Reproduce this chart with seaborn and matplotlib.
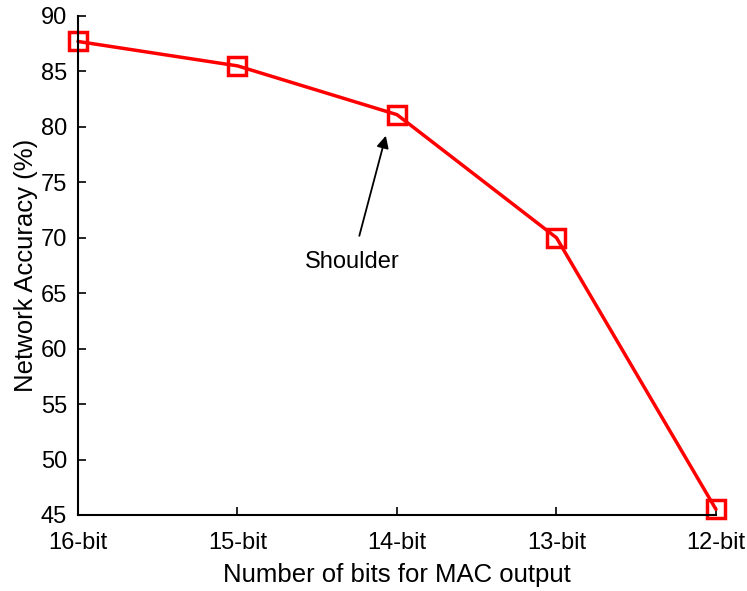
import matplotlib
matplotlib.use("Agg")
import matplotlib.pyplot as plt
import seaborn as sns
import pandas as pd

categories = ["16-bit", "15-bit", "14-bit", "13-bit", "12-bit"]
accuracy = [87.7, 85.5, 81.1, 70.0, 45.5]
y_ticks = [45, 50, 55, 60, 65, 70, 75, 80, 85, 90]

sns.set_style("white")
plt.rcParams['font.family'] = ['Liberation Sans', 'DejaVu Sans']
plt.rcParams['text.color'] = 'black'
plt.rcParams['axes.labelcolor'] = 'black'

df = pd.DataFrame({"pos": range(len(categories)), "acc": accuracy})

fig = plt.figure(figsize=(7.47, 5.91), dpi=100)
ax = fig.add_axes([0.1044, 0.1286, 0.8541, 0.8444])
sns.lineplot(data=df, x="pos", y="acc", ax=ax, color="#ff0000", lw=2.5,
             marker="s", markersize=13, markerfacecolor="none",
             markeredgecolor="#ff0000", markeredgewidth=2.5, clip_on=False)

ax.set_xlim(0, 4)
ax.set_ylim(45, 90)
ax.set_xticks(range(len(categories)))
ax.set_xticklabels(categories)
ax.set_yticks(y_ticks)
ax.tick_params(direction="in", length=6, width=1.2, labelsize=17,
               colors="black", bottom=True, left=True)
ax.tick_params(axis="y", pad=8)
ax.tick_params(axis="x", pad=12)
for s in ["top", "right"]:
    ax.spines[s].set_visible(False)
for s in ["left", "bottom"]:
    ax.spines[s].set_color("black")
    ax.spines[s].set_linewidth(1.5)
ax.set_xlabel("Number of bits for MAC output", fontsize=18.5, labelpad=7)
ax.set_ylabel("Network Accuracy (%)", fontsize=18.5, labelpad=2)

ax.annotate("Shoulder", xy=(1.93, 79.2), xytext=(1.72, 67.8),
            ha="center", va="center", fontsize=17,
            arrowprops=dict(arrowstyle="-|>", color="black", lw=1.3,
                            mutation_scale=18, shrinkA=9, shrinkB=0))

fig.savefig("out.png", dpi=100)
